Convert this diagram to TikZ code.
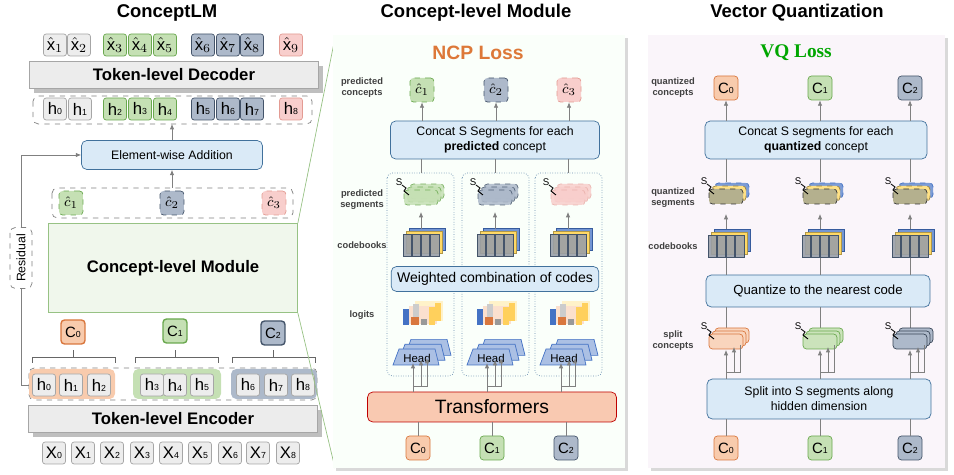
\documentclass[tikz,border=0pt]{standalone}
\usepackage{fontspec}
\setmainfont{Liberation Sans}
\newfontfamily\serifbf{Liberation Serif}
\usetikzlibrary{positioning,shadows,arrows.meta}

\definecolor{orgF}{HTML}{F8CBAD}\definecolor{orgD}{HTML}{D9773E}
\definecolor{grnF}{HTML}{C5E0B4}\definecolor{grnD}{HTML}{6AA84F}
\definecolor{bluF}{HTML}{ADB9CA}\definecolor{bluD}{HTML}{44546A}
\definecolor{pnkF}{HTML}{F8CECC}\definecolor{pnkD}{HTML}{E39B93}
\definecolor{boxF}{HTML}{DAEAF7}\definecolor{boxD}{HTML}{41719C}
\definecolor{tokF}{HTML}{EDEDED}\definecolor{tokD}{HTML}{A6A6A6}
\definecolor{arr}{HTML}{808080}
\definecolor{cbBlue}{HTML}{4472C4}\definecolor{cbYel}{HTML}{FFD966}
\definecolor{olive}{HTML}{B4B08E}

\newcommand{\sub}[1]{{\fontsize{5}{5}\selectfont #1}}

\tikzset{
  tok/.style={draw=tokD, fill=tokF, rounded corners=1.5pt, minimum width=0.46cm,
    minimum height=0.44cm, inner sep=0pt, font=\fontsize{9.5}{9.5}\selectfont},
  tgrn/.style={tok, draw=grnD, fill=grnF},
  tblu/.style={tok, draw=bluD, fill=bluF},
  tpnk/.style={tok, draw=pnkD, fill=pnkF},
  ctok/.style={rounded corners=2pt, minimum size=0.48cm, inner sep=0pt,
    font=\fontsize{8.5}{8.5}\selectfont},
  layerbox/.style={draw=gray!70, fill=gray!15, drop shadow, minimum width=5.78cm,
    minimum height=0.54cm, font=\bfseries\fontsize{9.5}{10}\selectfont},
  blubox/.style={draw=boxD, fill=boxF, rounded corners=3pt, align=center,
    font=\fontsize{7}{8.5}\selectfont},
  side/.style={font=\bfseries\fontsize{5.3}{6.3}\selectfont, text=black!75, align=center},
  title/.style={font=\bfseries\fontsize{10.5}{12}\selectfont},
  dashbox/.style={draw=gray, dashed, rounded corners=3pt},
  colbox/.style={draw=boxD!80, densely dotted, rounded corners=3pt},
  link/.style={draw=arr, -{Latex[length=3pt,width=2.5pt]}},
  gline/.style={draw=arr},
  sgrn/.style={draw=grnD, fill=grnF, dashed, opacity=0.85},
  sblu/.style={draw=bluD, fill=bluF, dashed, opacity=0.85},
  spnk/.style={draw=pnkD!80, fill=pnkF, dashed, opacity=0.85},
  sorg/.style={draw=orgD, fill=orgF!80},
  sgre/.style={draw=grnD, fill=grnF!90},
  sgry/.style={draw=bluD!80!black, fill=bluF},
  qback/.style={draw=cbBlue, fill=cbBlue!70, dashed},
  qmid/.style={draw=cbYel!60!black, fill=cbYel!80, dashed},
  qfront/.style={draw=black!80, fill=olive, dashed},
}

% stack of three layers: x, y, back, middle, front
\newcommand{\stk}[5]{%
  \begin{scope}[shift={(#1,#2)}]
    \draw[rounded corners=2pt,#3] (-11,-12) rectangle (23,3);
    \draw[rounded corners=2pt,#4] (-14,-9) rectangle (20,6);
    \draw[rounded corners=2pt,#5] (-17,-6) rectangle (17,9);
    \node[font=\fontsize{5.5}{5.5}\selectfont, inner sep=0pt] at (-22,-14) {S};
    \draw[line width=0.5pt] (-19,-11) -- (-15,-8) -- (-17,-5) -- (-12,-1);
  \end{scope}}

% codebook: x, y
\newcommand{\codebk}[2]{%
  \begin{scope}[shift={(#1,#2)}]
    \draw[draw=cbBlue!80!black, fill=cbBlue!75] (-12,-17) rectangle (24,5);
    \draw[draw=cbYel!70!black, fill=cbYel] (-15,-14) rectangle (21,8);
    \draw[draw=bluD, fill=gray!45!bluF, fill opacity=0.9] (-18,-11) rectangle (18,11);
    \foreach \v in {-9,0,9} \draw[bluD, thick] (\v,-11) -- (\v,11);
  \end{scope}}

% logits: x, y
\newcommand{\logit}[2]{%
  \begin{scope}[shift={(#1,#2)}]
    \fill[cbYel!35] (-6,-14) rectangle (22,6);
    \fill[orgF!60] (-12,-9) rectangle (16,9);
    \fill[gray!40] (-8,-11) rectangle (-2,9);
    \fill[cbBlue] (-18,10) rectangle (-12,-6);
    \fill[orgD] (-10,10) rectangle (-2,2);
    \fill[gray!80] (0,10) rectangle (6,4);
    \fill[cbYel!90!orange] (14,-12) rectangle (20,6);
    \fill[cbYel!90!orange] (8,10) rectangle (14,-8);
  \end{scope}}

% head stack: x, y
\newcommand{\headstk}[2]{%
  \begin{scope}[shift={(#1,#2)}]
    \foreach \o in {12,6,0}
      \draw[draw=cbBlue, fill=cbBlue!45, shift={(\o,-\o*0.8)}]
        (-28,10) -- (18,10) -- (14,-6) -- (-22,-6) -- cycle;
    \node[font=\fontsize{6.5}{6.5}\selectfont, inner sep=0pt] at (-4,3) {Head};
  \end{scope}}

\begin{document}
\begin{tikzpicture}[x=0.02cm, y=-0.02cm]
  \useasboundingbox (0,0) rectangle (954,475);

  % ---------------- ConceptLM ----------------
  \node[title] (tLM) at (167,13) {ConceptLM};

  % decoder outputs
  \foreach \i/\x/\s in {1/55/tok,2/79/tok,3/115/tgrn,4/140/tgrn,5/165/tgrn,
                        6/203/tblu,7/228/tblu,8/252/tblu,9/291/tpnk}
    \node[\s] (xh\i) at (\x,45) {$\hat{\mathrm{x}}_{\i}$};
  \node[layerbox] (dec) at (174,75) {Token-level Decoder};

  \draw[dashbox] (33,96) rectangle (312,124);
  \coordinate (hrow) at (172,124);
  \foreach \i/\x/\s in {0/55/tok,1/80/tok,2/115/tgrn,3/140/tgrn,4/165/tgrn,
                        5/203/tblu,6/228/tblu,7/252/tblu,8/291/tpnk}
    \node[\s] (hd\i) at (\x,109) {h\sub{\i}};

  \node[blubox, minimum width=3.62cm, minimum height=0.58cm] (add) at (172,155)
    {Element-wise Addition};

  \draw[dashbox] (52,188) rectangle (293,218);
  \coordinate (chrow) at (172,188);
  \node[ctok, draw=grnD, fill=grnF, dashed] (ch1) at (71,203) {$\hat{c}_1$};
  \node[ctok, draw=bluD, fill=bluF, dashed] (ch2) at (172,203) {$\hat{c}_2$};
  \node[ctok, draw=pnkD, fill=pnkF, dashed] (ch3) at (274,203) {$\hat{c}_3$};

  \draw[link] (chrow) -- (add);
  \draw[link] (add) -- (hrow);

  \node[draw=grnD!70, fill=grnF!25, minimum width=4.98cm, minimum height=1.78cm,
    font=\bfseries\fontsize{9.5}{10}\selectfont] (clm) at (173,268) {Concept-level Module};

  % residual
  \node[dashbox, rotate=90, minimum width=1.22cm, minimum height=0.44cm,
    font=\fontsize{7}{7}\selectfont, inner sep=1pt] (res) at (21,258) {Residual};

  % concepts and groups
  \node[ctok, draw=orgD, fill=orgF, thick] (c0) at (73,332) {C\sub{0}};
  \node[ctok, draw=grnD, fill=grnF, thick] (c1) at (175,331) {C\sub{1}};
  \node[ctok, draw=bluD, fill=bluF, thick] (c2) at (273,333) {C\sub{2}};
  \foreach \c/\a/\b in {c0/32/115,c1/135/218,c2/232/315} {
    \draw[gray!80!black] (\a,363) -- (\a,357) -- (\b,357) -- (\b,363);
    \draw[gray!80!black] (\c |- 0,357) -- (\c |- 0,350);
  }

  \draw[dashbox] (29,368) rectangle (317,400);
  \fill[orgF, rounded corners=3pt] (29,369) rectangle (115,399);
  \fill[grnF, rounded corners=3pt] (133,369) rectangle (221,399);
  \fill[bluF, rounded corners=3pt] (231,369) rectangle (317,399);
  \foreach \i/\x in {0/44,1/71,2/99,3/152,4/175,5/202,6/248,7/276,8/303}
    \node[tok] (he\i) at (\x,385) {h\sub{\i}};

  \draw[gline] (29,385) -| (res.west);
  \draw[link] (res.east) |- (add.west);

  \node[layerbox] (enc) at (173,419) {Token-level Encoder};
  \foreach \i/\x in {0/54,1/83,2/112,3/142,4/171,5/200,6/230,7/258,8/288}
    \node[tok] (x\i) at (\x,453) {X\sub{\i}};

  % zoom lines
  \draw[grnD!70] (clm.north east) -- (335,38);
  \draw[grnD!70] (clm.south east) -- (335,468);

  % ---------------- Concept-level Module ----------------
  \node[title] (tCM) at (476,13) {Concept-level Module};
  \fill[gray!30] (336,38) rectangle (628,471);
  \fill[green!2!white] (333,35) rectangle (625,468);
  \node[font=\bfseries\fontsize{11}{12}\selectfont, text=orgD!90!orange] (ncpT) at (478,53) {NCP Loss};

  \node[side] (lPC) at (362,88) {predicted\\concepts};
  \node[side] (lPS) at (362,200) {predicted\\segments};
  \node[side] (lCB) at (362,245) {codebooks};
  \node[side] (lLG) at (362,315) {logits};

  \node[ctok, draw=grnD, fill=grnF, dashed] (mc1) at (422,90) {$\hat{c}_1$};
  \node[ctok, draw=bluD, fill=bluF, dashed] (mc2) at (496,90) {$\hat{c}_2$};
  \node[ctok, draw=pnkD, fill=pnkF, dashed] (mc3) at (569,90) {$\hat{c}_3$};

  \node[blubox, minimum width=4.18cm, minimum height=0.7cm] (mcat) at (495,140)
    {Concat S Segments for each\\\textbf{predicted} concept};

  \foreach \i/\x/\a/\b/\s in {1/421/387/454/sgrn,2/495/462/529/sblu,3/568/535/602/spnk} {
    \draw[colbox] (\a,173) rectangle (\b,376);
    \coordinate (mcol\i) at (\x,173);
    \draw[link] (mcat.north -| mc\i) -- (mc\i);
    \draw[gline] (mcat.south -| mcol\i) -- (mcol\i);
    \stk{\x}{196}{\s}{\s}{\s}
    \codebk{\x}{245}
    \draw[link] (\x,229) -- (\x,212);
    \logit{\x}{315}
    \headstk{\x}{355}
  }

  \node[blubox, minimum width=3.86cm, minimum height=0.5cm, font=\fontsize{8}{9}\selectfont]
    (mwgt) at (495,279) {Weighted combination of codes};

  \node[draw=red!75!black, fill=orgF!80!pink, rounded corners=3pt, minimum width=4.98cm,
    minimum height=0.6cm, font=\fontsize{11}{12}\selectfont] (mtrf) at (492,407) {Transformers};

  \node[ctok, draw=orgD, fill=orgF] (mb0) at (418,448) {C\sub{0}};
  \node[ctok, draw=grnD, fill=grnF] (mb1) at (492,448) {C\sub{1}};
  \node[ctok, draw=bluD, fill=bluF] (mb2) at (566,448) {C\sub{2}};
  \foreach \i in {0,1,2} {
    \draw[gline] (mb\i) -- (mtrf.south -| mb\i);
  }
  \foreach \x in {413,487,561} {
    \draw[link] (mtrf.north -| \x,0) -- (\x,363);
    \draw[link] (\x,386) -| (\x+8,360);
    \draw[link] (\x+8,386) -| (\x+14,358);
  }

  % ---------------- Vector Quantization ----------------
  \node[title] (tVQ) at (797,13) {Vector Quantization};
  \fill[gray!30] (651,38) rectangle (948,471);
  \fill[violet!4!white] (648,35) rectangle (945,468);
  \node[font=\serifbf\bfseries\fontsize{11}{12}\selectfont, text=green!65!black] (vqT) at (796,53) {VQ Loss};

  \node[side] (lQC) at (673,88) {quantized\\concepts};
  \node[side] (lQS) at (673,198) {quantized\\segments};
  \node[side] (lQB) at (673,246) {codebooks};
  \node[side] (lSC) at (673,341) {split\\concepts};

  \node[ctok, draw=orgD, fill=orgF] (qc0) at (726,88) {C\sub{0}};
  \node[ctok, draw=grnD, fill=grnF] (qc1) at (820,88) {C\sub{1}};
  \node[ctok, draw=bluD, fill=bluF] (qc2) at (910,88) {C\sub{2}};

  \node[blubox, minimum width=4.44cm, minimum height=0.68cm] (qcat) at (816,140)
    {Concat S segments for each\\\textbf{quantized} concept};
  \node[blubox, minimum width=4.48cm, minimum height=0.64cm, font=\fontsize{7.5}{9}\selectfont]
    (qnear) at (818,291) {Quantize to the nearest code};
  \node[blubox, minimum width=4.48cm, minimum height=0.8cm] (qsplit) at (819,399)
    {Split into S segments along\\hidden dimension};

  \node[ctok, draw=orgD, fill=orgF] (qb0) at (726,448) {C\sub{0}};
  \node[ctok, draw=grnD, fill=grnF] (qb1) at (820,448) {C\sub{1}};
  \node[ctok, draw=bluD, fill=bluF] (qb2) at (910,448) {C\sub{2}};

  \foreach \i/\x/\s in {0/726/sorg,1/820/sgre,2/910/sgry} {
    \draw[link] (qcat.north -| qc\i) -- (qc\i);
    \draw[gline] (qcat.south -| qc\i) -- (\x,182);
    \draw[gline] (qnear.north -| qc\i) -- (\x,258);
    \draw[link] (\x,232) -- (\x,214);
    \stk{\x}{195}{qback}{qmid}{qfront}
    \codebk{\x}{246}
    \draw[gline] (\x,330) -- (qnear.south -| qc\i);
    \stk{\x}{340}{\s}{\s}{\s}
    \draw[link] (qsplit.north -| qc\i) -- (\x,350);
    \draw[link] (\x,372) -| (\x+8,347);
    \draw[gline] (\x+8,372) -| (\x+14,345);
    \draw[gline] (qb\i) -- (qsplit.south -| qb\i);
  }
\end{tikzpicture}
\end{document}
